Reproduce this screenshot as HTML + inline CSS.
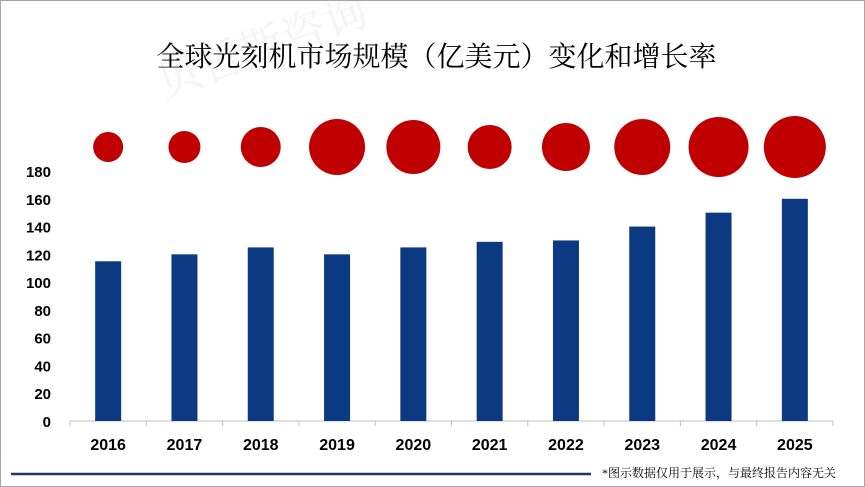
<!DOCTYPE html>
<html><head><meta charset="utf-8"><style>
html,body{margin:0;padding:0;background:#fff}
#wrap{position:relative;width:863px;height:485px;border:1px solid #a6a6a6;overflow:hidden;font-family:"Liberation Sans","Noto Sans CJK SC",sans-serif}
#title{position:absolute;left:0;top:34px;width:863px;text-align:center;font-family:"Liberation Serif","Noto Serif CJK SC",serif;font-size:28px;color:#000;padding-left:8px;box-sizing:border-box}
#note{position:absolute;left:601px;top:463px;font-size:12px;font-family:"Liberation Serif","Noto Serif CJK SC",serif;color:#000}
#wm{position:absolute;font-size:44px;color:rgba(200,200,200,0.2);font-family:"Noto Serif CJK SC",serif;transform:rotate(-20deg)}
</style></head><body>
<div id="wrap">
<div id="wm" style="left:150px;top:10px">贝哲斯咨询</div>
<div id="title">全球光刻机市场规模（亿美元）变化和增长率</div>
<svg id="svg" width="863" height="485" style="position:absolute;left:0;top:0"></svg>
<div id="note">*图示数据仅用于展示，与最终报告内容无关</div>
</div>
<script>
const years=["2016","2017","2018","2019","2020","2021","2022","2023","2024","2025"];
const values=[115,120,125,120,125,129,130,140,150,160];
const circleSizes=[15,16,20,28,27,22,24,28,30,31];
const yTicks=[0,20,40,60,80,100,120,140,160,180];
const svg=document.getElementById('svg');
const NS='http://www.w3.org/2000/svg';
const y0=420,yPer=250/180,x0=69,step=76.3;
const ys=v=>y0-v*yPer, xs=i=>x0+step*(i+0.5);
function mk(t,a){const e=document.createElementNS(NS,t);for(const k in a)e.setAttribute(k,a[k]);svg.appendChild(e);return e;}
yTicks.forEach(t=>{const e=mk('text',{x:50,y:ys(t)+6,'text-anchor':'end','font-size':15,'font-weight':'bold',fill:'#000'});e.textContent=t;

});
const ax=mk('line',{x1:x0,y1:y0,x2:x0+step*10,y2:y0,stroke:'#bfbfbf','stroke-width':1});


for(let i=0;i<=10;i++){const t=mk('line',{x1:x0+step*i,y1:y0,x2:x0+step*i,y2:y0+5,stroke:'#bfbfbf'});

}
years.forEach((yr,i)=>{
const b=mk('rect',{x:xs(i)-13,y:ys(values[i]),width:26,height:y0-ys(values[i]),fill:'#0b3a82'});


const c=mk('circle',{cx:xs(i),cy:146,r:circleSizes[i],fill:'#c00000'});


const l=mk('text',{x:xs(i),y:449,'text-anchor':'middle','font-size':16,'font-weight':'bold',fill:'#000'});l.textContent=yr;


});
const fl=mk('line',{x1:10,y1:473,x2:590,y2:473,stroke:'#1f3864','stroke-width':2.5});


</script>
</body></html>
